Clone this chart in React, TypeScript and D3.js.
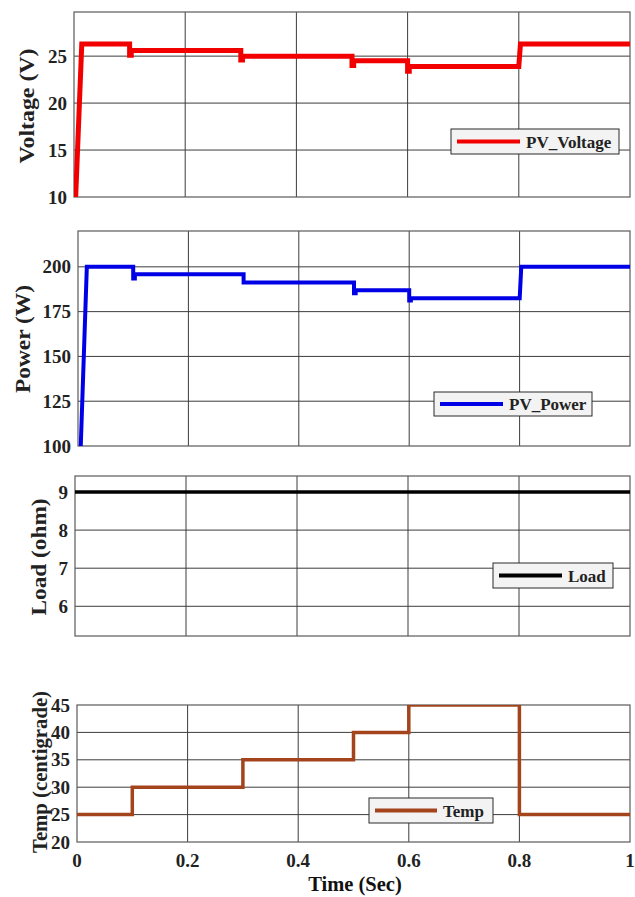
import React from 'react';
import * as d3 from 'd3';

// time axis (shared)
const timeTicks = [0, 0.2, 0.4, 0.6, 0.8, 1];
const timeTickLabels = ['0', '0.2', '0.4', '0.6', '0.8', '1'];

// PV voltage (V)
const voltageTime = [0.003, 0.014, 0.1, 0.1, 0.103, 0.103, 0.3, 0.3, 0.303, 0.303, 0.5, 0.5, 0.503, 0.503, 0.6, 0.6, 0.603, 0.603, 0.8, 0.803, 1];
const voltageValues = [10, 26.3, 26.3, 25.1, 25.1, 25.6, 25.6, 24.6, 24.6, 25.0, 25.0, 24.0, 24.0, 24.5, 24.5, 23.4, 23.4, 23.9, 23.9, 26.3, 26.3];
const voltageTicks = [10, 15, 20, 25];

// PV power (W)
const powerTime = [0.005, 0.016, 0.1, 0.1, 0.103, 0.103, 0.3, 0.3, 0.5, 0.5, 0.503, 0.503, 0.6, 0.6, 0.603, 0.603, 0.8, 0.8, 0.803, 1];
const powerValues = [100, 200, 200, 193.5, 193.5, 195.8, 195.8, 191.2, 191.2, 185.2, 185.2, 187, 187, 181.2, 181.2, 182.4, 182.4, 181.4, 200, 200];
const powerTicks = [100, 125, 150, 175, 200];

// Load (ohm)
const loadTime = [0, 1];
const loadValues = [9, 9];
const loadTicks = [6, 7, 8, 9];

// Temperature (centigrade)
const tempTime = [0, 0.1, 0.1, 0.3, 0.3, 0.5, 0.5, 0.6, 0.6, 0.8, 0.8, 1];
const tempValues = [25, 25, 30, 30, 35, 35, 40, 40, 45, 45, 25, 25];
const tempTicks = [20, 25, 30, 35, 40, 45];

const FONT = '"Liberation Serif", "Times New Roman", serif';

interface Panel {
  id: string;
  left: number;
  top: number;
  right: number;
  bottom: number;
  domain: [number, number];
  ticks: number[];
  time: number[];
  values: number[];
  color: string;
  lineWidth: number;
  label: string;
  labelX: number;
  labelCenter: number;
  labelSize: number;
  labelLength: number;
  legend: { name: string; x: number; y: number; w: number; h: number; line: number };
}

const panels: Panel[] = [
  {
    id: 'v', left: 74, top: 12, right: 630, bottom: 197, domain: [10, 29.7], ticks: voltageTicks,
    time: voltageTime, values: voltageValues, color: '#f20000', lineWidth: 5,
    label: 'Voltage (V)', labelX: 26, labelCenter: 106, labelSize: 22, labelLength: 115,
    legend: { name: 'PV_Voltage', x: 451, y: 129, w: 168, h: 25, line: 63 },
  },
  {
    id: 'p', left: 78, top: 231, right: 630, bottom: 446, domain: [100, 220], ticks: powerTicks,
    time: powerTime, values: powerValues, color: '#0000e6', lineWidth: 4,
    label: 'Power (W)', labelX: 22, labelCenter: 339, labelSize: 22, labelLength: 108,
    legend: { name: 'PV_Power', x: 434, y: 392, w: 158, h: 24, line: 63 },
  },
  {
    id: 'l', left: 75, top: 476, right: 630, bottom: 636, domain: [5.22, 9.42], ticks: loadTicks,
    time: loadTime, values: loadValues, color: '#000000', lineWidth: 3.5,
    label: 'Load (ohm)', labelX: 38, labelCenter: 557, labelSize: 22, labelLength: 117,
    legend: { name: 'Load', x: 493, y: 563, w: 120, h: 25, line: 63 },
  },
  {
    id: 't', left: 77, top: 705, right: 630, bottom: 842, domain: [20, 45], ticks: tempTicks,
    time: tempTime, values: tempValues, color: '#a3441c', lineWidth: 3.5,
    label: 'Temp (centigrade)', labelX: 40, labelCenter: 772, labelSize: 21, labelLength: 162,
    legend: { name: 'Temp', x: 369, y: 798, w: 124, h: 25, line: 62 },
  },
];

const PanelChart: React.FC<{ p: Panel; showX: boolean }> = ({ p, showX }) => {
  const x = d3.scaleLinear().domain([0, 1]).range([p.left, p.right]);
  const y = d3.scaleLinear().domain(p.domain).range([p.bottom, p.top]);
  const pts = p.time.map((t, i) => [t, p.values[i]] as [number, number]);
  const line = d3.line<[number, number]>().x(d => x(d[0])).y(d => y(d[1]));
  const lg = p.legend;

  return (
    <g>
      <defs>
        <clipPath id={`clip-${p.id}`}>
          <rect x={p.left} y={p.top} width={p.right - p.left} height={p.bottom - p.top} />
        </clipPath>
      </defs>
      <rect x={p.left} y={p.top} width={p.right - p.left} height={p.bottom - p.top} fill="#fff" />
      {/* grid */}
      {timeTicks.slice(1, -1).map(t => (
        <line key={`gx${t}`} x1={x(t)} x2={x(t)} y1={p.top} y2={p.bottom} stroke="#3c3c3c" strokeWidth={1} />
      ))}
      {p.ticks.filter(v => v > p.domain[0] && v < p.domain[1]).map(v => (
        <line key={`gy${v}`} x1={p.left} x2={p.right} y1={y(v)} y2={y(v)} stroke="#3c3c3c" strokeWidth={1} />
      ))}
      <rect x={p.left} y={p.top} width={p.right - p.left} height={p.bottom - p.top}
        fill="none" stroke="#5a5a5a" strokeWidth={1.2} />
      {/* series */}
      <path d={line(pts) || ''} fill="none" stroke={p.color} strokeWidth={p.lineWidth}
        strokeLinejoin="miter" clipPath={`url(#clip-${p.id})`} />
      {/* y ticks */}
      {p.ticks.map(v => (
        <text key={`ty${v}`} x={p.left - 7} y={y(v)} dy="0.35em" textAnchor="end"
          fontFamily={FONT} fontWeight="bold" fontSize={19} fill="#222">{v}</text>
      ))}
      <text transform={`translate(${p.labelX},${p.labelCenter}) rotate(-90)`} dy="0.35em"
        textAnchor="middle" fontFamily={FONT} fontWeight="bold" fontSize={p.labelSize} fill="#222"
        textLength={p.labelLength} lengthAdjust="spacingAndGlyphs">{p.label}</text>
      {/* legend */}
      <rect x={lg.x} y={lg.y} width={lg.w} height={lg.h} fill="#f3f3f3" stroke="#2a2a2a" strokeWidth={1} />
      <line x1={lg.x + 6} x2={lg.x + 6 + lg.line} y1={lg.y + lg.h / 2} y2={lg.y + lg.h / 2}
        stroke={p.color} strokeWidth={4} />
      <text x={lg.x + 12 + lg.line} y={lg.y + lg.h / 2} dy="0.36em" fontFamily={FONT} fontWeight="bold"
        fontSize={17} fill="#222">{lg.name}</text>
      {showX && timeTicks.map((t, i) => (
        <text key={`tx${t}`} x={x(t)} y={867} textAnchor="middle" fontFamily={FONT} fontWeight="bold"
          fontSize={19} fill="#222">{timeTickLabels[i]}</text>
      ))}
      {showX && (
        <text x={355} y={891} textAnchor="middle" fontFamily={FONT} fontWeight="bold" fontSize={20.5}
          fill="#111">Time (Sec)</text>
      )}
    </g>
  );
};

export default function App() {
  return (
    <svg width={635} height={897} viewBox="0 0 635 897"
      style={{ position: 'absolute', left: 0, top: 0, display: 'block', background: '#fff' }}>
      <rect width={635} height={897} fill="#fff" />
      {panels.map((p, i) => (
        <PanelChart key={p.id} p={p} showX={i === panels.length - 1} />
      ))}
    </svg>
  );
}
